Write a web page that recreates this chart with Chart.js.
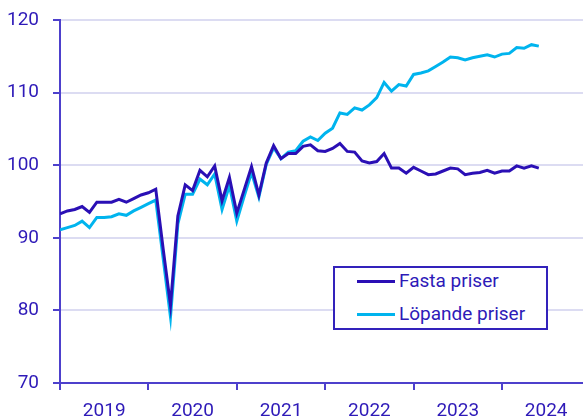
<!DOCTYPE html>
<html lang="sv">
  <head>
    <meta charset="UTF-8" />
    <title>Fasta och löpande priser</title>
    <style>
      body {
        margin: 0;
        padding: 0;
        background: #fff;
        font-family: Roboto, Arial, sans-serif;
      }
      .wrap {
        position: relative;
        width: 583px;
        height: 418px;
      }
      .legend {
        position: absolute;
        left: 333px;
        top: 266px;
        width: 211px;
        height: 60px;
        border: 2px solid #3322bb;
        background: #fff;
        color: #2e1ab8;
        font-size: 19px;
      }
      .legend .row {
        position: absolute;
        left: 22px;
        height: 22px;
        line-height: 22px;
        display: flex;
        align-items: center;
        white-space: nowrap;
      }
      .legend .swatch {
        width: 38px;
        height: 3px;
        margin-right: 4px;
      }
    </style>
  </head>
  <body>
    <div class="wrap">
      <canvas id="chart" width="583" height="418"></canvas>
      <div class="legend">
        <div class="row" style="top: 2px">
          <span class="swatch" style="background: #2a0fb5"></span>Fasta priser
        </div>
        <div class="row" style="top: 35px">
          <span class="swatch" style="background: #00b4ee"></span>Löpande priser
        </div>
      </div>
    </div>

    <script src="https://cdn.jsdelivr.net/npm/chart.js@4.4.1/dist/chart.umd.min.js"></script>
    <script>
      // monthly index, Jan 2019 = 0 ... Jun 2024 = 65
      const years = ["2019", "2020", "2021", "2022", "2023", "2024"];

      const fasta = [
        93.3, 93.7, 93.9, 94.3, 93.5, 94.9, 94.9, 94.9, 95.3, 94.9, 95.4, 95.9,
        96.2, 96.7, 88.5, 80.7, 93.0, 97.3, 96.5, 99.3, 98.4, 99.9, 95.1, 98.3,
        93.4, 96.6, 99.8, 95.9, 100.3, 102.7, 100.9, 101.6, 101.6, 102.6, 102.8, 102.0,
        101.9, 102.3, 103.0, 101.9, 101.8, 100.6, 100.3, 100.5, 101.6, 99.6, 99.6, 98.9,
        99.7, 99.2, 98.7, 98.8, 99.2, 99.6, 99.5, 98.7, 98.9, 99.0, 99.3, 98.9,
        99.2, 99.2, 99.9, 99.6, 99.9, 99.6,
      ];

      const lopande = [
        91.1, 91.4, 91.7, 92.3, 91.4, 92.8, 92.8, 92.9, 93.3, 93.1, 93.7, 94.2,
        94.7, 95.2, 87.2, 79.1, 91.9, 96.0, 96.0, 98.1, 97.3, 98.8, 93.9, 97.2,
        92.3, 95.7, 99.0, 95.6, 100.1, 102.4, 100.9, 101.8, 102.0, 103.3, 103.9, 103.4,
        104.4, 105.1, 107.2, 107.0, 107.9, 107.6, 108.3, 109.3, 111.4, 110.2, 111.1, 110.9,
        112.5, 112.7, 113.0, 113.6, 114.2, 114.9, 114.8, 114.5, 114.8, 115.0, 115.2, 114.9,
        115.3, 115.4, 116.2, 116.1, 116.6, 116.4,
      ];

      const yTicks = [70, 80, 90, 100, 110, 120];

      const textColor = "#2e1ab8";
      const axisColor = "#4d40cc";
      const gridColor = "#dcdcf2";
      const font = { family: "Roboto", size: 19 };

      const toPoints = (arr) => arr.map((v, i) => ({ x: i, y: v }));

      new Chart(document.getElementById("chart").getContext("2d"), {
        type: "line",
        data: {
          datasets: [
            {
              label: "Fasta priser",
              data: toPoints(fasta),
              borderColor: "#2a0fb5",
              borderWidth: 3,
              pointRadius: 0,
              tension: 0,
              fill: false,
            },
            {
              label: "Löpande priser",
              data: toPoints(lopande),
              borderColor: "#00b4ee",
              borderWidth: 3,
              pointRadius: 0,
              tension: 0,
              fill: false,
            },
          ],
        },
        options: {
          responsive: false,
          animation: false,
          layout: { padding: { left: 0, top: 20, right: 0, bottom: 0 } },
          plugins: {
            legend: { display: false },
            tooltip: { enabled: false },
          },
          scales: {
            x: {
              type: "linear",
              min: 0,
              max: 71,
              position: "bottom",
              afterBuildTicks: (scale) => {
                scale.ticks = years.map((y, i) => ({ value: i * 12 }));
              },
              afterFit: (scale) => {
                scale.height = 8;
              },
              ticks: { display: false },
              grid: {
                drawOnChartArea: false,
                drawTicks: true,
                tickLength: 7,
                tickColor: axisColor,
                lineWidth: 2,
              },
              border: { color: axisColor, width: 2 },
            },
            x2: {
              type: "linear",
              min: 0,
              max: 71,
              position: "bottom",
              afterBuildTicks: (scale) => {
                scale.ticks = years.map((y, i) => ({ value: i * 12 + 6 }));
              },
              afterFit: (scale) => {
                scale.height = 27;
              },
              ticks: {
                autoSkip: false,
                maxRotation: 0,
                color: textColor,
                font: font,
                padding: 1,
                callback: (v) => years[Math.round((v - 6) / 12)],
              },
              grid: { display: false },
              border: { display: false },
            },
            y: {
              min: 70,
              max: 120,
              afterBuildTicks: (scale) => {
                scale.ticks = yTicks.map((v) => ({ value: v }));
              },
              afterFit: (scale) => {
                scale.width = 60;
                scale.paddingTop = 0;
                scale.paddingBottom = 0;
              },
              ticks: {
                color: textColor,
                font: font,
                padding: 14,
              },
              grid: {
                color: gridColor,
                lineWidth: 2,
                tickColor: axisColor,
                tickLength: 7,
              },
              border: { color: axisColor, width: 2 },
            },
          },
        },
      });
    </script>
  </body>
</html>
